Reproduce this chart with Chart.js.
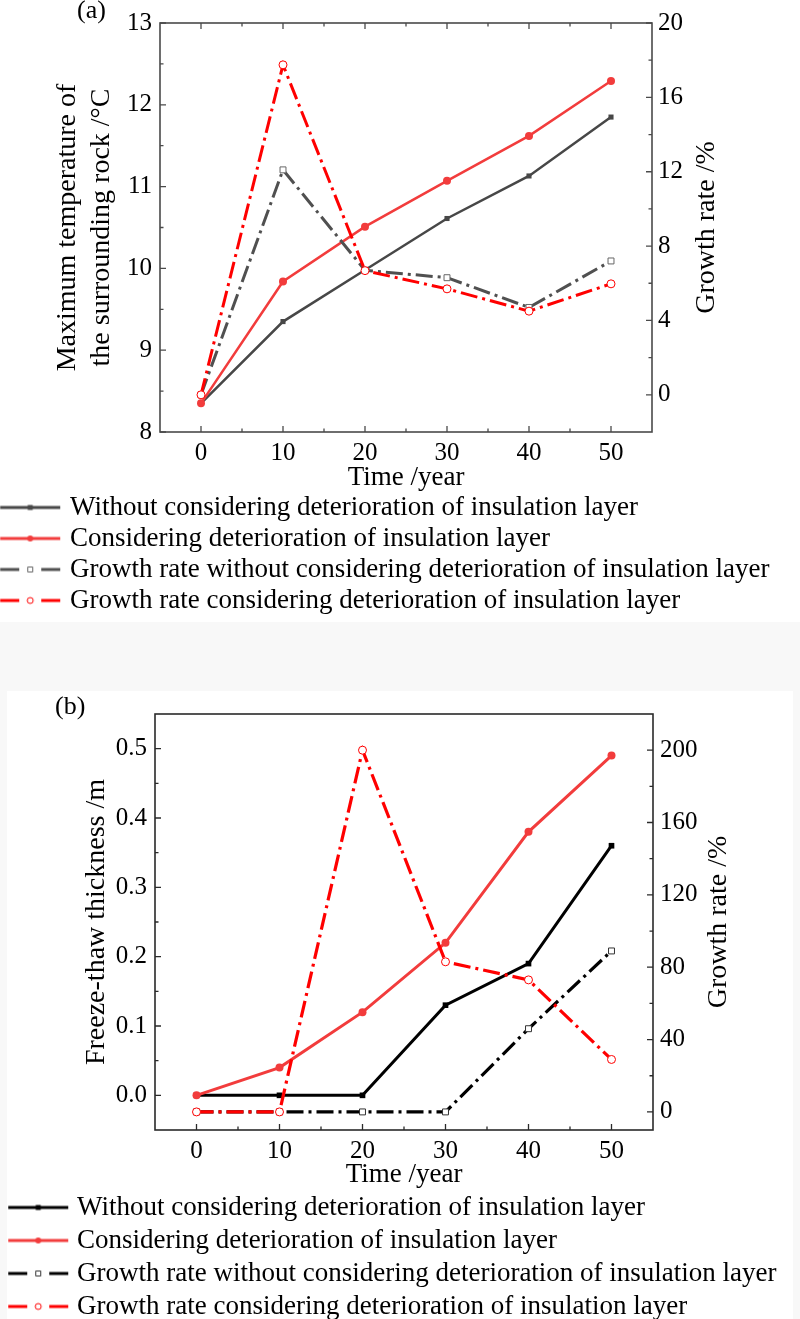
<!DOCTYPE html>
<html>
<head>
<meta charset="utf-8">
<script src="https://cdn.jsdelivr.net/npm/chart.js@4.4.1/dist/chart.umd.min.js"></script>
<style>
html, body { margin: 0; padding: 0; overflow: hidden; width: 800px; height: 1319px; background: #f8f8f8; }
#panelA { position: absolute; left: 0; top: 0; width: 800px; height: 622px; background: #fff; }
#panelB { position: absolute; left: 7px; top: 691px; width: 786px; height: 628px; background: #fff; }
canvas { position: absolute; left: 0; top: 0; }
.tag { position: absolute; font-family: "Liberation Serif", "Times New Roman", serif; font-size: 26px; line-height: 26px; color: #000; }
</style>
</head>
<body>
<div id="panelA">
  <canvas id="chartA" width="800" height="624"></canvas>
  <div class="tag" style="left:77px; top:-3px">(a)</div>
</div>
<div id="panelB">
  <canvas id="chartB" width="786" height="639"></canvas>
  <div class="tag" style="left:48px; top:2px">(b)</div>
</div>
<script>
// x values shared by both panels
const years = [0, 10, 20, 30, 40, 50];

// (a) maximum temperature of surrounding rock, and its growth rate
const tempWithout = [8.35, 9.35, 9.98, 10.61, 11.13, 11.85];
const tempWith = [8.35, 9.84, 10.51, 11.07, 11.62, 12.29];
const tempRateWithout = [0, 12.1, 6.7, 6.3, 4.7, 7.2];
const tempRateWith = [0, 17.75, 6.68, 5.7, 4.5, 5.97];

// (b) freeze-thaw thickness, and its growth rate
const thickWithout = [0, 0, 0, 0.13, 0.19, 0.36];
const thickWith = [0, 0.04, 0.12, 0.22, 0.38, 0.49];
const thickRateWithout = [0, 0, 0, 0, 46, 89];
const thickRateWith = [0, 0, 200, 83, 73, 29];

// tick labels
const yearTicks = [0, 10, 20, 30, 40, 50];
const tempTicks = [8, 9, 10, 11, 12, 13];
const tempRateTicks = [0, 4, 8, 12, 16, 20];
const thickTicks = [0, 0.1, 0.2, 0.3, 0.4, 0.5];
const thickRateTicks = [0, 40, 80, 120, 160, 200];

const seriesNames = [
  'Without considering deterioration of insulation layer',
  'Considering deterioration of insulation layer',
  'Growth rate without considering deterioration of insulation layer',
  'Growth rate considering deterioration of insulation layer'
];

const serif = '"Liberation Serif", "Times New Roman", serif';
Chart.defaults.font.family = serif;
Chart.defaults.color = '#000';

const pts = arr => years.map((x, i) => ({ x: x, y: arr[i] }));

// little line+marker pictures for the legend
function lineSample(color, dashed, shape, hollow, edge) {
  const c = document.createElement('canvas');
  c.width = 62; c.height = 14;
  const g = c.getContext('2d');
  g.strokeStyle = color;
  g.lineWidth = 3;
  g.beginPath();
  if (dashed) {
    g.moveTo(1, 7); g.lineTo(20, 7);
    g.moveTo(42, 7); g.lineTo(61, 7);
  } else {
    g.moveTo(1, 7); g.lineTo(61, 7);
  }
  g.stroke();
  g.beginPath();
  if (shape === 'rect') g.rect(28.5, 4.5, 5, 5);
  else g.arc(31, 7, 3, 0, Math.PI * 2);
  g.fillStyle = hollow ? '#fff' : color;
  g.fill();
  if (hollow) { g.strokeStyle = edge; g.lineWidth = 1; g.stroke(); }
  return c;
}

// frame, inward ticks and the right-hand title
const axisFrame = {
  id: 'axisFrame',
  afterDraw(chart, args, o) {
    const { ctx, chartArea: a, scales } = chart;
    const tickSet = scale => {
      const major = scale.ticks.map(t => t.value);
      const step = major[1] - major[0];
      const out = major.map(v => [v, o.major]);
      for (let v = major[0] - step / 2; v < scale.max - 1e-9; v += step) {
        if (v > scale.min + 1e-9) out.push([v, o.minor]);
      }
      return out;
    };
    ctx.save();
    ctx.strokeStyle = o.color;
    ctx.lineWidth = o.width;
    ctx.strokeRect(a.left, a.top, a.right - a.left, a.bottom - a.top);
    ctx.lineWidth = o.tickWidth;
    ctx.beginPath();
    tickSet(scales.x).forEach(([v, len]) => {
      const px = scales.x.getPixelForValue(v);
      ctx.moveTo(px, a.bottom); ctx.lineTo(px, a.bottom - len);
      if (o.topTicks) { ctx.moveTo(px, a.top); ctx.lineTo(px, a.top + len); }
    });
    tickSet(scales.y).forEach(([v, len]) => {
      const py = scales.y.getPixelForValue(v);
      ctx.moveTo(a.left, py); ctx.lineTo(a.left + len, py);
    });
    tickSet(scales.y1).forEach(([v, len]) => {
      const py = scales.y1.getPixelForValue(v);
      ctx.moveTo(a.right, py); ctx.lineTo(a.right - len, py);
    });
    ctx.stroke();

    ctx.fillStyle = '#000';
    ctx.font = '28px ' + serif;
    ctx.textAlign = 'center';
    ctx.textBaseline = 'middle';
    ctx.translate(scales.y1.left + o.titleOffset, (a.top + a.bottom) / 2);
    ctx.rotate(-Math.PI / 2);
    ctx.fillText(o.rightTitle, 0, 0);
    ctx.restore();
  }
};

function legendOpts(samples, size, pad, boxW) {
  return {
    position: 'bottom',
    align: 'start',
    labels: {
      usePointStyle: true,
      pointStyleWidth: boxW,
      padding: pad,
      color: '#000',
      font: { size: size },
      sort: (p, q) => p.datasetIndex - q.datasetIndex,
      generateLabels(chart) {
        const items = Chart.defaults.plugins.legend.labels.generateLabels(chart);
        items.forEach(it => { it.pointStyle = samples[it.datasetIndex]; });
        return items;
      }
    }
  };
}

function fixedTicks(vals) {
  return scale => { scale.ticks = vals.map(v => ({ value: v })); };
}

const dashDot = [17, 5, 3, 5];

// ---------- chart (a) ----------
const grayA = '#474747';
const redSolid = '#f23c3c';
const redDash = '#ff0000';

const samplesA = [
  lineSample(grayA, false, 'rect', false),
  lineSample(redSolid, false, 'circle', false),
  lineSample('#505050', true, 'rect', true, '#666'),
  lineSample(redDash, true, 'circle', true, redDash)
];

new Chart(document.getElementById('chartA'), {
  type: 'line',
  data: {
    datasets: [
      { label: seriesNames[0], data: pts(tempWithout), yAxisID: 'y', order: 4,
        borderColor: grayA, backgroundColor: grayA, borderWidth: 2.5,
        pointStyle: 'rect', pointRadius: 3.6, pointBorderWidth: 0 },
      { label: seriesNames[1], data: pts(tempWith), yAxisID: 'y', order: 3,
        borderColor: redSolid, backgroundColor: redSolid, borderWidth: 2.5,
        pointStyle: 'circle', pointRadius: 4, pointBorderWidth: 0 },
      { label: seriesNames[2], data: pts(tempRateWithout), yAxisID: 'y1', order: 2,
        borderColor: '#505050', backgroundColor: '#fff', borderWidth: 3, borderDash: dashDot,
        pointStyle: 'rect', pointRadius: 4.2, pointBorderWidth: 1, pointBorderColor: '#666' },
      { label: seriesNames[3], data: pts(tempRateWith), yAxisID: 'y1', order: 1,
        borderColor: redDash, backgroundColor: '#fff', borderWidth: 3, borderDash: dashDot,
        pointStyle: 'circle', pointRadius: 4, pointBorderWidth: 1, pointBorderColor: redDash }
    ]
  },
  options: {
    responsive: false,
    animation: false,
    layout: { padding: { top: 10, left: 0, right: 0, bottom: 0 } },
    scales: {
      x: {
        type: 'linear', min: -5, max: 55,
        afterBuildTicks: fixedTicks(yearTicks),
        afterFit: s => { s.height = 58; },
        grid: { display: false, drawTicks: false }, border: { display: false },
        ticks: { padding: 6, font: { size: 25 } },
        title: { display: true, text: 'Time /year', font: { size: 27, lineHeight: 0.89 }, padding: 0 }
      },
      y: {
        position: 'left', min: 8, max: 13,
        afterBuildTicks: fixedTicks(tempTicks),
        afterFit: s => { s.width = 160; },
        grid: { display: false, drawTicks: false }, border: { display: false },
        ticks: { padding: 8, font: { size: 25 } },
        title: { display: true, text: ['Maximum temperature of', 'the surrounding rock /°C'],
                 font: { size: 28, lineHeight: 1.2 }, padding: { top: 51, bottom: 0 } }
      },
      y1: {
        position: 'right', min: -2, max: 20,
        afterBuildTicks: fixedTicks(tempRateTicks),
        afterFit: s => { s.width = 148; },
        grid: { display: false, drawTicks: false }, border: { display: false },
        ticks: { padding: 6, font: { size: 25 } }
      }
    },
    plugins: {
      legend: legendOpts(samplesA, 27, 4, 52.5),
      tooltip: { enabled: false },
      axisFrame: { color: '#4a4a4a', width: 1.6, tickWidth: 1.3, major: 6, minor: 3.5,
                   topTicks: true, rightTitle: 'Growth rate /%', titleOffset: 55 }
    }
  },
  plugins: [axisFrame]
});

// ---------- chart (b) ----------
const black = '#000';

const samplesB = [
  lineSample(black, false, 'rect', false),
  lineSample(redSolid, false, 'circle', false),
  lineSample(black, true, 'rect', true, '#333'),
  lineSample(redDash, true, 'circle', true, redDash)
];

new Chart(document.getElementById('chartB'), {
  type: 'line',
  data: {
    datasets: [
      { label: seriesNames[0], data: pts(thickWithout), yAxisID: 'y', order: 4,
        borderColor: black, backgroundColor: black, borderWidth: 3,
        pointStyle: 'rect', pointRadius: 4, pointBorderWidth: 0 },
      { label: seriesNames[1], data: pts(thickWith), yAxisID: 'y', order: 3,
        borderColor: redSolid, backgroundColor: redSolid, borderWidth: 3,
        pointStyle: 'circle', pointRadius: 4, pointBorderWidth: 0 },
      { label: seriesNames[2], data: pts(thickRateWithout), yAxisID: 'y1', order: 2,
        borderColor: black, backgroundColor: '#fff', borderWidth: 3.2, borderDash: dashDot,
        pointStyle: 'rect', pointRadius: 4.2, pointBorderWidth: 1, pointBorderColor: '#333' },
      { label: seriesNames[3], data: pts(thickRateWith), yAxisID: 'y1', order: 1,
        borderColor: redDash, backgroundColor: '#fff', borderWidth: 3.2, borderDash: dashDot,
        pointStyle: 'circle', pointRadius: 4, pointBorderWidth: 1, pointBorderColor: redDash }
    ]
  },
  options: {
    responsive: false,
    animation: false,
    layout: { padding: { top: 2, left: 0, right: 0, bottom: 0 } },
    scales: {
      x: {
        type: 'linear', min: -5, max: 55,
        afterBuildTicks: fixedTicks(yearTicks),
        afterFit: s => { s.height = 58; },
        grid: { display: false, drawTicks: false }, border: { display: false },
        ticks: { padding: 6, font: { size: 25 } },
        title: { display: true, text: 'Time /year', font: { size: 27, lineHeight: 0.96 }, padding: 0 }
      },
      y: {
        position: 'left', min: -0.05, max: 0.55,
        afterBuildTicks: fixedTicks(thickTicks),
        afterFit: s => { s.width = 148; },
        grid: { display: false, drawTicks: false }, border: { display: false },
        ticks: { padding: 8, font: { size: 25 }, callback: v => v.toFixed(1) },
        title: { display: true, text: 'Freeze-thaw thickness /m',
                 font: { size: 28, lineHeight: 1.2 }, padding: { top: 73, bottom: 0 } }
      },
      y1: {
        position: 'right', min: -10, max: 220,
        afterBuildTicks: fixedTicks(thickRateTicks),
        afterFit: s => { s.width = 140; },
        grid: { display: false, drawTicks: false }, border: { display: false },
        ticks: { padding: 7, font: { size: 25 } }
      }
    },
    plugins: {
      legend: legendOpts(samplesB, 27, 6, 50.5),
      tooltip: { enabled: false },
      axisFrame: { color: '#2a2a2a', width: 1.6, tickWidth: 1.3, major: 6, minor: 3.5,
                   topTicks: false, rightTitle: 'Growth rate /%', titleOffset: 66 }
    }
  },
  plugins: [axisFrame]
});
</script>
</body>
</html>
